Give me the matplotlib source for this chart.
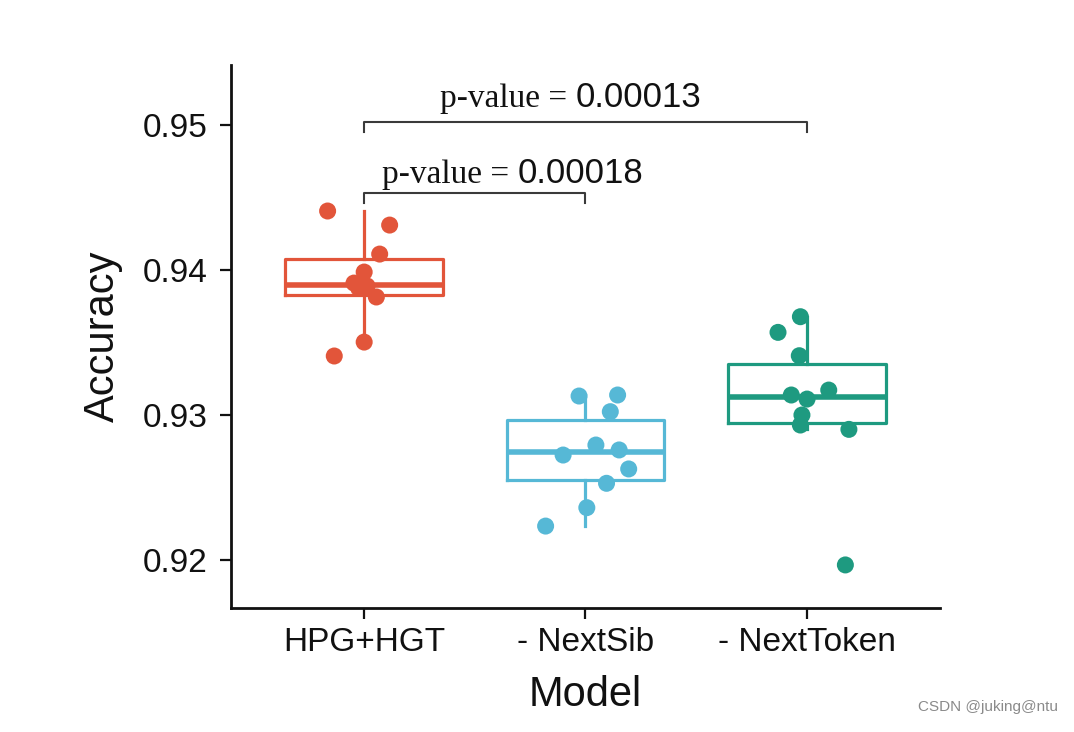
import numpy as np
import matplotlib
matplotlib.use("Agg")
import matplotlib.pyplot as plt

# accuracy of each run
models = ["HPG+HGT", "- NextSib", "- NextToken"]
hpg_acc = [0.94407, 0.94310, 0.94110, 0.93986, 0.93910, 0.93876, 0.93814, 0.93503, 0.93407, 0.93890]
nextsib_acc = [0.93131, 0.93138, 0.93023, 0.92793, 0.92759, 0.92724, 0.92628, 0.92529, 0.92361, 0.92234]
nexttoken_acc = [0.93678, 0.93570, 0.93409, 0.93172, 0.93138, 0.93000, 0.92931, 0.92901, 0.91966, 0.93110]

# horizontal jitter of the points (category units)
hpg_jit = [-0.164, 0.116, 0.071, 0.001, -0.045, -0.024, 0.056, 0.001, -0.134, 0.014]
nextsib_jit = [-0.029, 0.145, 0.112, 0.047, 0.152, -0.101, 0.195, 0.095, 0.006, -0.180]
nexttoken_jit = [-0.030, -0.131, -0.035, 0.098, -0.071, -0.023, -0.030, 0.189, 0.173, 0.0]

# comparisons: (group a, group b, bracket height, label)
p_labels = ["0.00018", "0.00013"]
p_pairs = [(1, 2), (1, 3)]
p_heights = [0.94529, 0.95021]

colors = ["#E2553A", "#56B8D6", "#1E9A80"]
sans = "Liberation Sans"

data = [hpg_acc, nextsib_acc, nexttoken_acc]
jitter = [hpg_jit, nextsib_jit, nexttoken_jit]
pos = [1, 2, 3]

fig = plt.figure(figsize=(10.74, 7.32), dpi=100)
ax = fig.add_axes([0.2151, 0.1694, 0.6601, 0.7418])

for i in range(3):
    c = colors[i]
    ax.boxplot([data[i]], positions=[pos[i]], widths=0.71, whis=1.5,
               showfliers=False, showcaps=False,
               boxprops=dict(color=c, linewidth=2.3),
               whiskerprops=dict(color=c, linewidth=2.3),
               medianprops=dict(color=c, linewidth=4.0, solid_capstyle="butt"))
    xs = pos[i] + np.array(jitter[i])
    ax.scatter(xs, data[i], s=150, color=c, edgecolors="none", zorder=3)

# significance brackets
drop = 0.00067
for (a, b), h in zip(p_pairs, p_heights):
    ax.plot([a, a, b, b], [h - drop, h, h, h - drop], color="#3a3a3a",
            lw=1.5, clip_on=False, zorder=4)

# labels: serif "p-value =" followed by a sans number
label_split = [1.692, 1.955]
label_base = [0.9460, 0.95124]
for s, xb, yb in zip(p_labels, label_split, label_base):
    ax.text(xb, yb, "p-value = ", family="Liberation Serif", fontsize=24,
            ha="right", va="baseline", color="#111111")
    ax.text(xb, yb, s, family=sans, fontsize=25, ha="left", va="baseline",
            color="#111111")

ax.set_xlim(0.4, 3.6)
ax.set_ylim(0.91669, 0.95414)
ax.set_yticks([0.92, 0.93, 0.94, 0.95])
ax.set_yticklabels(["0.92", "0.93", "0.94", "0.95"])
ax.set_xticks(pos)
ax.set_xticklabels(models)

for lab in ax.get_xticklabels() + ax.get_yticklabels():
    lab.set_family(sans)
    lab.set_fontsize(24)
    lab.set_color("#111111")

ax.tick_params(axis="both", length=8, width=1.6, color="#111111")
ax.tick_params(axis="y", pad=9)
ax.tick_params(axis="x", pad=6)
ax.spines["top"].set_visible(False)
ax.spines["right"].set_visible(False)
for sp in ["left", "bottom"]:
    ax.spines[sp].set_linewidth(2.0)
    ax.spines[sp].set_color("#111111")

ax.set_ylabel("Accuracy", family=sans, fontsize=30, color="#111111", labelpad=14)
ax.set_xlabel("Model", family=sans, fontsize=30, color="#111111", labelpad=12)

fig.text(0.985, 0.025, "CSDN @juking@ntu", family=sans, fontsize=11,
         color="#8a8a8a", ha="right", va="bottom")

fig.savefig("out.png", dpi=100)
